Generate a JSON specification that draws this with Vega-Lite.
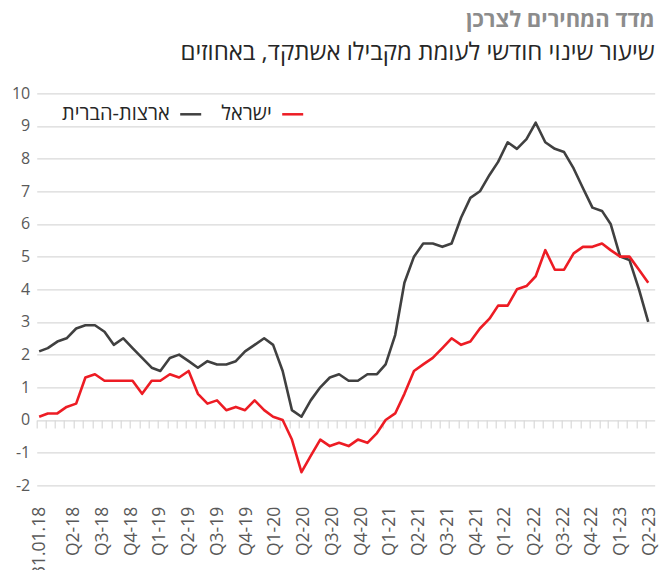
{
  "$schema": "https://vega.github.io/schema/vega-lite/v6.json",
  "width": 618,
  "height": 392,
  "autosize": {"type": "none"},
  "padding": {"left": 36.7, "top": 93.3, "right": 4.3, "bottom": 84.7},
  "title": {
    "text": "מדד המחירים לצרכן",
    "subtitle": "שיעור שינוי חודשי לעומת מקבילו אשתקד, באחוזים",
    "anchor": "end",
    "frame": "group",
    "fontSize": 22,
    "fontWeight": "bold",
    "color": "#8c8c8c",
    "subtitleFontSize": 24,
    "subtitleColor": "#262626",
    "subtitlePadding": 9,
    "offset": 19
  },
  "data": {
    "values": [
      {"date": "2018-01-31", "ארצות-הברית": 2.1, "ישראל": 0.1},
      {"date": "2018-02-28", "ארצות-הברית": 2.2, "ישראל": 0.2},
      {"date": "2018-03-31", "ארצות-הברית": 2.4, "ישראל": 0.2},
      {"date": "2018-04-30", "ארצות-הברית": 2.5, "ישראל": 0.4},
      {"date": "2018-05-31", "ארצות-הברית": 2.8, "ישראל": 0.5},
      {"date": "2018-06-30", "ארצות-הברית": 2.9, "ישראל": 1.3},
      {"date": "2018-07-31", "ארצות-הברית": 2.9, "ישראל": 1.4},
      {"date": "2018-08-31", "ארצות-הברית": 2.7, "ישראל": 1.2},
      {"date": "2018-09-30", "ארצות-הברית": 2.3, "ישראל": 1.2},
      {"date": "2018-10-31", "ארצות-הברית": 2.5, "ישראל": 1.2},
      {"date": "2018-11-30", "ארצות-הברית": 2.2, "ישראל": 1.2},
      {"date": "2018-12-31", "ארצות-הברית": 1.9, "ישראל": 0.8},
      {"date": "2019-01-31", "ארצות-הברית": 1.6, "ישראל": 1.2},
      {"date": "2019-02-28", "ארצות-הברית": 1.5, "ישראל": 1.2},
      {"date": "2019-03-31", "ארצות-הברית": 1.9, "ישראל": 1.4},
      {"date": "2019-04-30", "ארצות-הברית": 2.0, "ישראל": 1.3},
      {"date": "2019-05-31", "ארצות-הברית": 1.8, "ישראל": 1.5},
      {"date": "2019-06-30", "ארצות-הברית": 1.6, "ישראל": 0.8},
      {"date": "2019-07-31", "ארצות-הברית": 1.8, "ישראל": 0.5},
      {"date": "2019-08-31", "ארצות-הברית": 1.7, "ישראל": 0.6},
      {"date": "2019-09-30", "ארצות-הברית": 1.7, "ישראל": 0.3},
      {"date": "2019-10-31", "ארצות-הברית": 1.8, "ישראל": 0.4},
      {"date": "2019-11-30", "ארצות-הברית": 2.1, "ישראל": 0.3},
      {"date": "2019-12-31", "ארצות-הברית": 2.3, "ישראל": 0.6},
      {"date": "2020-01-31", "ארצות-הברית": 2.5, "ישראל": 0.3},
      {"date": "2020-02-29", "ארצות-הברית": 2.3, "ישראל": 0.1},
      {"date": "2020-03-31", "ארצות-הברית": 1.5, "ישראל": 0.0},
      {"date": "2020-04-30", "ארצות-הברית": 0.3, "ישראל": -0.6},
      {"date": "2020-05-31", "ארצות-הברית": 0.1, "ישראל": -1.6},
      {"date": "2020-06-30", "ארצות-הברית": 0.6, "ישראל": -1.1},
      {"date": "2020-07-31", "ארצות-הברית": 1.0, "ישראל": -0.6},
      {"date": "2020-08-31", "ארצות-הברית": 1.3, "ישראל": -0.8},
      {"date": "2020-09-30", "ארצות-הברית": 1.4, "ישראל": -0.7},
      {"date": "2020-10-31", "ארצות-הברית": 1.2, "ישראל": -0.8},
      {"date": "2020-11-30", "ארצות-הברית": 1.2, "ישראל": -0.6},
      {"date": "2020-12-31", "ארצות-הברית": 1.4, "ישראל": -0.7},
      {"date": "2021-01-31", "ארצות-הברית": 1.4, "ישראל": -0.4},
      {"date": "2021-02-28", "ארצות-הברית": 1.7, "ישראל": 0.0},
      {"date": "2021-03-31", "ארצות-הברית": 2.6, "ישראל": 0.2},
      {"date": "2021-04-30", "ארצות-הברית": 4.2, "ישראל": 0.8},
      {"date": "2021-05-31", "ארצות-הברית": 5.0, "ישראל": 1.5},
      {"date": "2021-06-30", "ארצות-הברית": 5.4, "ישראל": 1.7},
      {"date": "2021-07-31", "ארצות-הברית": 5.4, "ישראל": 1.9},
      {"date": "2021-08-31", "ארצות-הברית": 5.3, "ישראל": 2.2},
      {"date": "2021-09-30", "ארצות-הברית": 5.4, "ישראל": 2.5},
      {"date": "2021-10-31", "ארצות-הברית": 6.2, "ישראל": 2.3},
      {"date": "2021-11-30", "ארצות-הברית": 6.8, "ישראל": 2.4},
      {"date": "2021-12-31", "ארצות-הברית": 7.0, "ישראל": 2.8},
      {"date": "2022-01-31", "ארצות-הברית": 7.5, "ישראל": 3.1},
      {"date": "2022-02-28", "ארצות-הברית": 7.9, "ישראל": 3.5},
      {"date": "2022-03-31", "ארצות-הברית": 8.5, "ישראל": 3.5},
      {"date": "2022-04-30", "ארצות-הברית": 8.3, "ישראל": 4.0},
      {"date": "2022-05-31", "ארצות-הברית": 8.6, "ישראל": 4.1},
      {"date": "2022-06-30", "ארצות-הברית": 9.1, "ישראל": 4.4},
      {"date": "2022-07-31", "ארצות-הברית": 8.5, "ישראל": 5.2},
      {"date": "2022-08-31", "ארצות-הברית": 8.3, "ישראל": 4.6},
      {"date": "2022-09-30", "ארצות-הברית": 8.2, "ישראל": 4.6},
      {"date": "2022-10-31", "ארצות-הברית": 7.7, "ישראל": 5.1},
      {"date": "2022-11-30", "ארצות-הברית": 7.1, "ישראל": 5.3},
      {"date": "2022-12-31", "ארצות-הברית": 6.5, "ישראל": 5.3},
      {"date": "2023-01-31", "ארצות-הברית": 6.4, "ישראל": 5.4},
      {"date": "2023-02-28", "ארצות-הברית": 6.0, "ישראל": 5.2},
      {"date": "2023-03-31", "ארצות-הברית": 5.0, "ישראל": 5.0},
      {"date": "2023-04-30", "ארצות-הברית": 4.9, "ישראל": 5.0},
      {"date": "2023-05-31", "ארצות-הברית": 4.0, "ישראל": 4.6},
      {"date": "2023-06-30", "ארצות-הברית": 3.0, "ישראל": 4.2}
    ]
  },
  "transform": [{"fold": ["ארצות-הברית", "ישראל"], "as": ["series", "value"]}],
  "layer": [
    {
      "mark": {"type": "line", "strokeWidth": 2.6, "strokeJoin": "round"},
      "encoding": {
        "x": {
          "field": "date",
          "type": "temporal",
          "scale": {"domain": [{"year": 2018, "month": 1, "date": 23}, {"year": 2023, "month": 7, "date": 21}]},
          "axis": {
            "orient": "bottom",
            "title": null,
            "grid": false,
            "domain": false,
            "ticks": false,
            "tickSize": 0,
            "labelAngle": 270,
            "labelPadding": 21,
            "labelFontSize": 17.5,
            "labelColor": "#595959",
            "labelFlush": false,
            "labelOverlap": false,
            "values": [
              {"year": 2018, "month": 1, "date": 31},
              {"year": 2018, "month": 5, "date": 21},
              {"year": 2018, "month": 8, "date": 23},
              {"year": 2018, "month": 11, "date": 25},
              {"year": 2019, "month": 2, "date": 27},
              {"year": 2019, "month": 5, "date": 29},
              {"year": 2019, "month": 9, "date": 1},
              {"year": 2019, "month": 12, "date": 4},
              {"year": 2020, "month": 3, "date": 6},
              {"year": 2020, "month": 6, "date": 8},
              {"year": 2020, "month": 9, "date": 10},
              {"year": 2020, "month": 12, "date": 12},
              {"year": 2021, "month": 3, "date": 14},
              {"year": 2021, "month": 6, "date": 16},
              {"year": 2021, "month": 9, "date": 18},
              {"year": 2021, "month": 12, "date": 20},
              {"year": 2022, "month": 3, "date": 22},
              {"year": 2022, "month": 6, "date": 25},
              {"year": 2022, "month": 9, "date": 27},
              {"year": 2022, "month": 12, "date": 29},
              {"year": 2023, "month": 4, "date": 1},
              {"year": 2023, "month": 7, "date": 3}
            ],
            "labelExpr": "(year(datum.value)==2018 && month(datum.value)==0) ? '31.01.18' : 'Q' + (floor(month(datum.value - 1296000000)/3)+1) + '-' + (year(datum.value - 1296000000)-2000)"
          }
        },
        "y": {
          "field": "value",
          "type": "quantitative",
          "scale": {"domain": [-2, 10], "nice": false, "zero": false},
          "axis": {
            "title": null,
            "values": [-2, -1, 0, 1, 2, 3, 4, 5, 6, 7, 8, 9, 10],
            "tickCount": 13,
            "labelOverlap": false,
            "grid": true,
            "gridColor": "#d9d9d9",
            "gridWidth": 1.2,
            "domain": false,
            "ticks": false,
            "labelPadding": 7,
            "labelFontSize": 16,
            "labelColor": "#595959",
            "labelExpr": "'' + datum.value"
          }
        },
        "color": {
          "field": "series",
          "type": "nominal",
          "scale": {"domain": ["ארצות-הברית", "ישראל"], "range": ["#404040", "#ED1C24"]},
          "legend": {
            "orient": "none",
            "legendX": 142,
            "legendY": 9,
            "direction": "horizontal",
            "title": null,
            "symbolType": "stroke",
            "symbolSize": 441,
            "symbolStrokeWidth": 2.5,
            "labelFontSize": 20,
            "labelColor": "#262626",
            "labelAlign": "right",
            "labelOffset": -33,
            "columnPadding": 14,
            "labelLimit": 0
          }
        }
      }
    },
    {
      "mark": {"type": "line", "opacity": 0},
      "encoding": {
        "x": {
          "field": "date",
          "type": "temporal",
          "axis": {
            "orient": "bottom",
            "offset": -65.3,
            "title": null,
            "labels": false,
            "domain": false,
            "grid": false,
            "ticks": true,
            "tickSize": 8,
            "tickColor": "#d9d9d9",
            "tickWidth": 1.2,
            "tickOffset": -2.8,
            "tickCount": {"interval": "month", "step": 1}
          }
        },
        "y": {"datum": 0, "axis": null}
      }
    }
  ],
  "resolve": {"axis": {"x": "independent", "y": "independent"}},
  "config": {"font": "Open Sans", "view": {"stroke": null}}
}
